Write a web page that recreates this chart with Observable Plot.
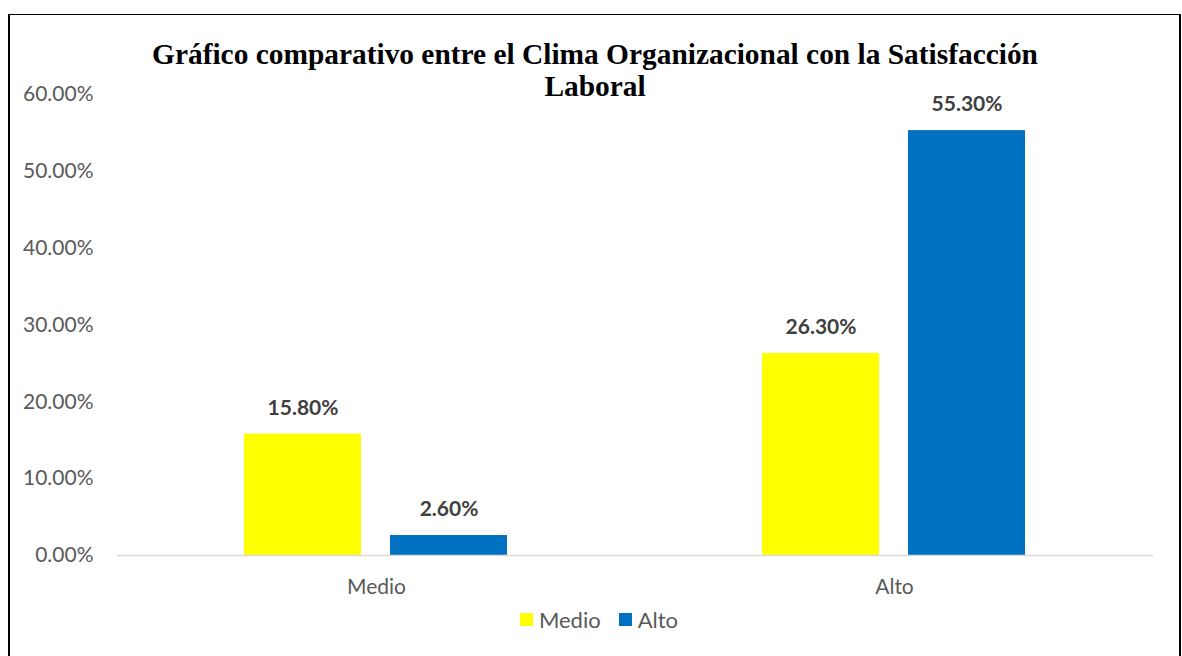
<!DOCTYPE html>
<html>
<head>
<meta charset="utf-8">
<script src="https://cdn.jsdelivr.net/npm/d3@7"></script>
<script src="https://cdn.jsdelivr.net/npm/@observablehq/plot@0.6"></script>
<style>
  html, body { margin: 0; padding: 0; background: #fff; }
  #wrap { position: relative; width: 1182px; height: 656px; overflow: hidden; }
  #frame { position: absolute; left: 8px; top: 14px; width: 1169px; height: 700px;
           border-left: 2px solid #000; border-right: 2px solid #000; border-top: 1.5px solid #000; }
  #title { position: absolute; left: 95px; width: 1000px; top: 38px; text-align: center;
           font-family: "Liberation Serif", "Times New Roman", serif; font-weight: bold;
           font-size: 29.4px; line-height: 32px; color: #000; }
  #chart { position: absolute; left: 0; top: 0; }
  #legend { position: absolute; top: 604px; left: 0; width: 1198px; text-align: center;
            font-family: Lato, "Open Sans", sans-serif; font-size: 22px; color: #595959; }
  #legend span.item { display: inline-flex; align-items: center; margin: 0 9px; }
  #legend span.sw { display: inline-block; width: 13px; height: 13px; margin-right: 6px; }
</style>
</head>
<body>
<div id="wrap">
  <div id="frame"></div>
  <div id="chart"></div>
  <div id="title">Gráfico comparativo entre el Clima Organizacional con la Satisfacción<br>Laboral</div>
  <div id="legend"></div>
</div>
<script>
const categories = ["Medio", "Alto"];
const seriesNames = ["Medio", "Alto"];
const seriesColors = ["#FFFF00", "#0070C0"];
const medioValues = [15.8, 26.3];
const altoValues = [2.6, 55.3];
const yTicks = [0, 10, 20, 30, 40, 50, 60];

const data = [];
categories.forEach((c, i) => {
  data.push({category: c, series: seriesNames[0], value: medioValues[i]});
  data.push({category: c, series: seriesNames[1], value: altoValues[i]});
});

const font = "Lato, 'Open Sans', sans-serif";

const chart = Plot.plot({
  width: 1182,
  height: 656,
  marginLeft: 116,
  marginRight: 29,
  marginTop: 94,
  marginBottom: 101,
  style: {fontFamily: font, background: "transparent", overflow: "visible"},
  fx: {domain: categories, padding: 0, axis: null},
  x: {domain: seriesNames, paddingInner: 0.197, paddingOuter: 0.862, axis: null},
  y: {domain: [0, 60], axis: null},
  color: {domain: seriesNames, range: seriesColors},
  marks: [
    Plot.axisY({ticks: yTicks, tickSize: 0, tickPadding: 24, fontSize: 21, fill: "#595959",
      label: null, tickFormat: d => d.toFixed(2) + "%"}),
    Plot.axisFx({anchor: "bottom", tickSize: 0, tickPadding: 24, fontSize: 21, fill: "#595959", label: null}),
    Plot.barY(data, {fx: "category", x: "series", y: "value", fill: "series"}),
    Plot.ruleY([0], {stroke: "#d9d9d9", strokeWidth: 1.5}),
    Plot.text(data, {fx: "category", x: "series", y: "value", text: d => d.value.toFixed(2) + "%",
      dy: -26, fontSize: 21, fontWeight: "bold", fill: "#404040"})
  ]
});
document.getElementById("chart").appendChild(chart);

const legend = document.getElementById("legend");
seriesNames.forEach((s, i) => {
  const item = document.createElement("span");
  item.className = "item";
  const sw = document.createElement("span");
  sw.className = "sw";
  sw.style.background = seriesColors[i];
  item.appendChild(sw);
  item.appendChild(document.createTextNode(s));
  legend.appendChild(item);
});
</script>
</body>
</html>
